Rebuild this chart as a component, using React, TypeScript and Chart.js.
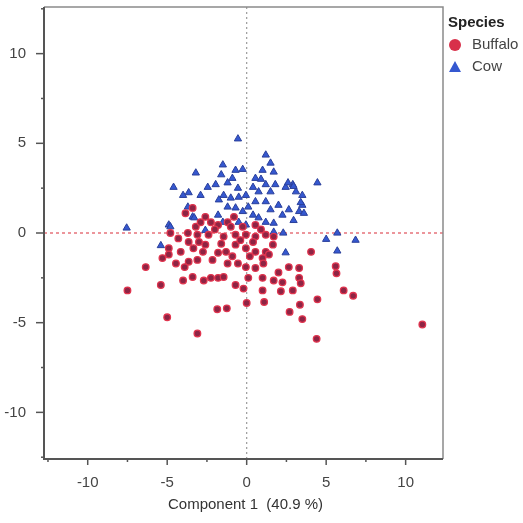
import { useEffect, useRef } from "react";
import { Chart, registerables } from "chart.js";

Chart.register(...registerables);

const seriesNames = ["Buffalo", "Cow"];
const legendTitle = "Species";
const xAxisTitle = "Component 1  (40.9 %)";
const xRange = [-12.75, 12.35];
const yRange = [-12.6, 12.6];
const tickStep = 2.5;
const labelStep = 5;

const buffaloPoints: number[][] = [
  [-3.85, 1.1], [-3.4, 1.4], [-2.6, 0.9], [-2.25, 0.6], [-1.8, 0.45], [-1.2, 0.6], [-0.8, 0.9],
  [-1.0, 0.35], [-0.25, 0.35], [0.55, 0.45], [-3.2, 0.35], [-3.7, 0.0], [-4.8, 0.0], [-3.1, -0.1],
  [-2.4, -0.1], [-1.45, -0.2], [-0.7, -0.1], [-0.05, -0.1], [0.55, -0.2], [1.2, -0.1], [1.7, -0.2],
  [-3.65, -0.5], [-3.0, -0.5], [-2.6, -0.65], [-3.35, -0.85], [-4.9, -0.85], [-4.9, -1.2], [-4.15, -1.05],
  [-2.75, -1.05], [-1.8, -1.1], [-1.3, -1.05], [-0.7, -0.65], [-0.05, -0.85], [0.4, -0.5], [0.55, -1.05],
  [1.2, -1.05], [1.4, -1.2], [1.65, -0.65], [1.0, -1.4], [-3.65, -1.6], [-3.1, -1.5], [-4.45, -1.7],
  [-5.3, -1.4], [-2.15, -1.5], [-1.2, -1.7], [-0.55, -1.7], [-0.05, -1.9], [0.55, -1.95], [1.05, -1.7],
  [2.0, -2.2], [2.65, -1.9], [3.3, -1.95], [4.05, -1.05], [-4.0, -2.65], [-3.4, -2.45], [-2.7, -2.65],
  [-2.25, -2.5], [-1.8, -2.5], [-1.45, -2.45], [-0.7, -2.9], [-0.2, -3.1], [0.1, -2.5], [1.0, -2.5],
  [1.7, -2.65], [2.25, -2.75], [3.3, -2.5], [3.4, -2.8], [-5.4, -2.9], [1.0, -3.2], [2.15, -3.25],
  [2.9, -3.2], [-6.35, -1.9], [-7.5, -3.2], [-5.0, -4.7], [-3.1, -5.6], [-1.85, -4.25], [-1.25, -4.2],
  [0.0, -3.9], [1.1, -3.85], [5.65, -2.25], [6.1, -3.2], [6.7, -3.5], [4.45, -3.7], [3.35, -4.0],
  [2.7, -4.4], [3.5, -4.8], [4.4, -5.9], [11.05, -5.1], [5.6, -1.85], [-2.0, 0.2], [-0.4, -0.4],
  [0.9, 0.2], [-1.6, -0.6], [-2.9, 0.6], [-4.3, -0.3], [0.2, -1.3], [-3.9, -1.9], [-0.9, -1.3],
];

const cowPoints: number[][] = [
  [-7.55, 0.28], [-0.55, 5.25], [-5.4, -0.7], [-4.9, 0.45], [-4.6, 2.55], [-3.2, 3.35], [-4.0, 2.1],
  [-3.65, 2.25], [-2.9, 2.1], [-2.45, 2.55], [-1.95, 2.7], [-1.5, 3.8], [-1.6, 3.25], [-0.7, 3.5],
  [-0.25, 3.55], [-1.2, 2.8], [-0.9, 3.05], [-0.55, 2.5], [-1.45, 2.1], [-1.0, 1.95], [-0.5, 2.0],
  [-0.05, 2.1], [0.4, 2.55], [0.55, 3.05], [0.75, 2.3], [1.2, 2.7], [1.5, 2.3], [1.8, 2.7],
  [2.45, 2.55], [2.9, 2.7], [3.1, 2.3], [3.5, 2.1], [3.5, 1.55], [3.3, 1.2], [2.65, 1.3],
  [2.25, 1.0], [2.0, 1.55], [1.5, 1.3], [1.2, 1.75], [0.55, 1.75], [0.1, 1.45], [0.4, 1.0],
  [0.75, 0.85], [-0.25, 1.2], [-0.7, 1.4], [-1.2, 1.45], [-1.8, 1.0], [-1.5, 0.6], [-0.5, 0.6],
  [-0.05, 0.45], [1.2, 0.6], [1.7, 0.55], [-3.7, 1.45], [-3.4, 0.9], [2.45, -1.1], [-2.6, 0.15],
  [1.7, 0.05], [1.2, 4.35], [1.5, 3.9], [1.0, 3.5], [1.7, 3.4], [0.9, 3.0], [2.6, 2.8],
  [4.45, 2.8], [2.95, 2.6], [3.4, 1.7], [3.6, 1.1], [2.95, 0.7], [5.0, -0.35], [5.7, 0.0],
  [6.85, -0.4], [5.7, -1.0], [2.3, 0.0], [-1.75, 1.85], [-3.3, 0.85], [-4.8, 0.35],
];

const FONT = '"Liberation Sans", Arial, sans-serif';
const buffaloFill = "#8e2444";
const buffaloEdge = "#e0344e";
const cowFill = "#3558d0";
const cowEdge = "#2a3f9a";

const decorPlugin = {
  id: "decor",
  beforeDatasetsDraw(chart: any) {
    const { ctx, chartArea: a, scales } = chart;
    const x0 = scales.x.getPixelForValue(0);
    const y0 = scales.y.getPixelForValue(0);
    ctx.save();
    ctx.lineWidth = 1.2;
    ctx.setLineDash([2, 3]);
    ctx.strokeStyle = "#9a9a9a";
    ctx.beginPath();
    ctx.moveTo(x0, a.top);
    ctx.lineTo(x0, a.bottom);
    ctx.stroke();
    ctx.setLineDash([3, 3]);
    ctx.strokeStyle = "#e0505a";
    ctx.beginPath();
    ctx.moveTo(a.left, y0);
    ctx.lineTo(a.right, y0);
    ctx.stroke();
    ctx.restore();
  },
  afterDraw(chart: any) {
    const { ctx, chartArea: a, scales } = chart;
    ctx.save();
    ctx.setLineDash([]);
    ctx.strokeStyle = "#8a8a8a";
    ctx.lineWidth = 1.5;
    ctx.beginPath();
    ctx.moveTo(a.left, a.top);
    ctx.lineTo(a.right, a.top);
    ctx.lineTo(a.right, a.bottom);
    ctx.stroke();
    ctx.strokeStyle = "#555";
    ctx.lineWidth = 2;
    ctx.beginPath();
    ctx.moveTo(a.left, a.top);
    ctx.lineTo(a.left, a.bottom);
    ctx.lineTo(a.right, a.bottom);
    ctx.stroke();
    ctx.lineWidth = 1.5;
    ctx.strokeStyle = "#555";
    for (const t of scales.x.ticks) {
      const px = scales.x.getPixelForValue(t.value);
      const len = Math.abs(t.value % labelStep) < 1e-6 ? 6 : 3;
      ctx.beginPath();
      ctx.moveTo(px, a.bottom);
      ctx.lineTo(px, a.bottom + len);
      ctx.stroke();
    }
    for (const t of scales.y.ticks) {
      const py = scales.y.getPixelForValue(t.value);
      const len = Math.abs(t.value % labelStep) < 1e-6 ? 8 : 3;
      ctx.beginPath();
      ctx.moveTo(a.left - len, py);
      ctx.lineTo(a.left, py);
      ctx.stroke();
    }
    ctx.fillStyle = "#333";
    ctx.font = `15px ${FONT}`;
    ctx.textAlign = "center";
    ctx.textBaseline = "middle";
    ctx.fillText(xAxisTitle, (a.left + a.right) / 2 + 2, 505);
    const lx = a.right + 5;
    ctx.textAlign = "left";
    ctx.fillStyle = "#222";
    ctx.font = `bold 15px ${FONT}`;
    ctx.fillText(legendTitle, lx, 23);
    ctx.font = `15px ${FONT}`;
    ctx.fillStyle = "#444";
    ctx.fillText(seriesNames[0], lx + 24, 45);
    ctx.fillText(seriesNames[1], lx + 24, 67);
    ctx.fillStyle = "#d8304a";
    ctx.beginPath();
    ctx.arc(lx + 7, 45, 6, 0, Math.PI * 2);
    ctx.fill();
    ctx.fillStyle = "#3558d0";
    ctx.beginPath();
    ctx.moveTo(lx + 7, 61);
    ctx.lineTo(lx + 13, 72);
    ctx.lineTo(lx + 1, 72);
    ctx.closePath();
    ctx.fill();
    ctx.restore();
  },
};

function buildTicks(scale: any) {
  const ticks: any[] = [];
  const start = Math.ceil(scale.min / tickStep) * tickStep;
  for (let v = start; v <= scale.max + 1e-9; v += tickStep) {
    ticks.push({ value: Math.round(v * 100) / 100 });
  }
  scale.ticks = ticks;
}

const labelCb = (v: any) => (Math.abs(Number(v) % labelStep) < 1e-6 ? String(v) : "");

export default function App() {
  const ref = useRef<HTMLCanvasElement>(null);
  useEffect(() => {
    if (!ref.current) return;
    const chart = new Chart(ref.current, {
      type: "scatter",
      data: {
        datasets: [
          {
            label: seriesNames[0],
            data: buffaloPoints.map(([x, y]) => ({ x, y })),
            pointStyle: "circle",
            pointRadius: 3.3,
            backgroundColor: buffaloFill,
            borderColor: buffaloEdge,
            borderWidth: 1.3,
          },
          {
            label: seriesNames[1],
            data: cowPoints.map(([x, y]) => ({ x, y })),
            pointStyle: "triangle",
            pointRadius: 4.2,
            backgroundColor: cowFill,
            borderColor: cowEdge,
            borderWidth: 1,
          },
        ],
      },
      options: {
        animation: false,
        responsive: false,
        layout: { padding: { left: 0, right: 80, top: 7, bottom: 0 } },
        plugins: { legend: { display: false }, tooltip: { enabled: false } },
        scales: {
          x: {
            type: "linear",
            min: xRange[0],
            max: xRange[1],
            afterBuildTicks: buildTicks,
            afterFit: (s: any) => { s.height = 64; s.paddingLeft = 0; s.paddingRight = 0; },
            grid: { display: false },
            border: { display: false },
            ticks: {
              autoSkip: false,
              maxRotation: 0,
              padding: 7,
              color: "#444",
              font: { size: 15, family: FONT },
              callback: labelCb,
            },
          },
          y: {
            type: "linear",
            min: yRange[0],
            max: yRange[1],
            afterBuildTicks: buildTicks,
            afterFit: (s: any) => { s.width = 44; s.paddingTop = 0; s.paddingBottom = 0; },
            grid: { display: false },
            border: { display: false },
            ticks: {
              autoSkip: false,
              padding: 10,
              color: "#444",
              font: { size: 15, family: FONT },
              callback: labelCb,
            },
          },
        },
      },
      plugins: [decorPlugin],
    });
    return () => chart.destroy();
  }, []);
  return (
    <div style={{ position: "fixed", left: 0, top: 0, width: 523, height: 523, background: "#fff" }}>
      <canvas ref={ref} width={523} height={523} />
    </div>
  );
}
